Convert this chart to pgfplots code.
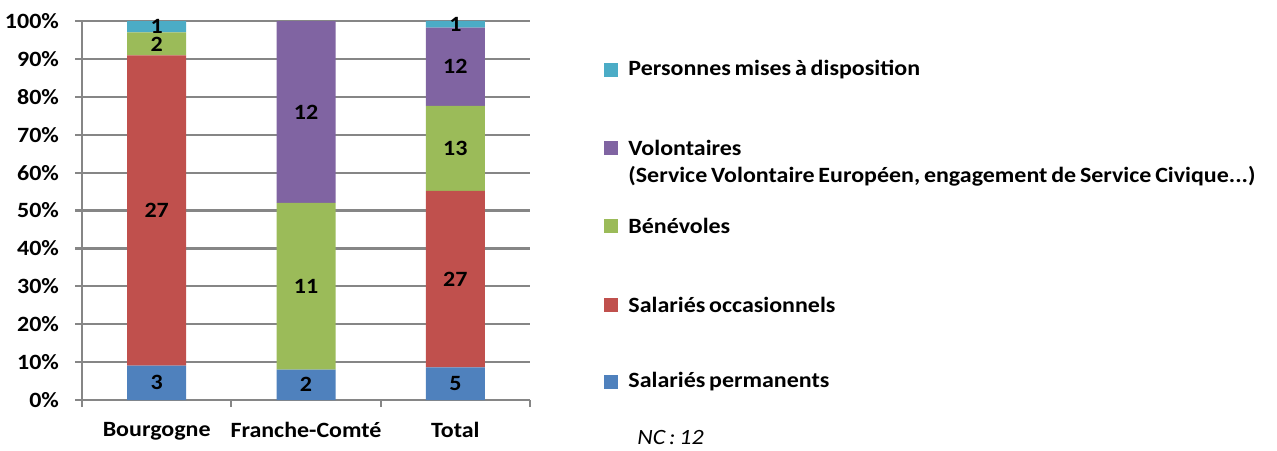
\documentclass[border=0pt]{standalone}
\usepackage{fontspec}
\setmainfont{Carlito}[FakeStretch=1.1, WordSpace=0.7]
\usepackage{pgfplots}
\pgfplotsset{compat=1.18}
\usepackage{pgfplotstable}

\definecolor{permanents}{HTML}{4F81BD}
\definecolor{occasionnels}{HTML}{C0504D}
\definecolor{benevoles}{HTML}{9BBB59}
\definecolor{volontaires}{HTML}{8064A2}
\definecolor{miseadispo}{HTML}{4BACC6}
\definecolor{grille}{HTML}{868686}

% effectifs par categorie, tot = somme de la ligne
\pgfplotstableread{
x perm occ ben vol mad tot
0  3   27  2   0   1   33
1  2   0   11  12  0   25
2  5   27  13  12  1   58
}\effectifs

\pgfplotsset{
  cadre/.style={
    scale only axis, width=224pt, height=189.5pt,
    at={(41pt,25pt)}, anchor=south west,
    xmin=-0.5, xmax=2.5, ymin=0, ymax=100,
  },
  etiquette/.style={
    draw=none, mark=none,
    point meta=explicit symbolic,
    nodes near coords={\ifnum\pgfplotspointmeta=0 \else\pgfplotspointmeta\fi},
    every node near coord/.append style={anchor=center, inner sep=0pt},
  },
}

\begin{document}
\begin{tikzpicture}[font=\fontsize{10.9}{12.5}\selectfont\bfseries]
\path[use as bounding box] (0,0) rectangle (638.5pt,225pt);

\begin{axis}[cadre,
  ybar stacked, bar width=29.5pt,
  axis lines=left, axis line style={-, grille, line width=1.1pt},
  ymajorgrids, grid style={grille, line width=1.1pt},
  ytick={0,10,...,100},
  yticklabel={\pgfmathprintnumber{\tick}\%},
  /pgf/number format/assume math mode=true,
  xtick={0,1,2}, xticklabels={Bourgogne,Franche-Comté,Total},
  minor xtick={-0.5,0.5,1.5,2.5},
  tick align=outside, major tick length=3.5pt, minor tick length=3.5pt,
  tick style={grille, line width=1.1pt},
  every major x tick/.append style={draw=none},
  xticklabel style={yshift=-4pt},
  yticklabel style={xshift=-4.5pt},
]
\addplot[fill=permanents, draw=none] table[x=x, y expr=100*\thisrow{perm}/\thisrow{tot}] {\effectifs};
\addplot[fill=occasionnels, draw=none] table[x=x, y expr=100*\thisrow{occ}/\thisrow{tot}] {\effectifs};
\addplot[fill=benevoles, draw=none] table[x=x, y expr=100*\thisrow{ben}/\thisrow{tot}] {\effectifs};
\addplot[fill=volontaires, draw=none] table[x=x, y expr=100*\thisrow{vol}/\thisrow{tot}] {\effectifs};
\addplot[fill=miseadispo, draw=none] table[x=x, y expr=100*\thisrow{mad}/\thisrow{tot}] {\effectifs};
\end{axis}

% valeurs au milieu de chaque segment
\begin{axis}[cadre, hide axis]
\addplot[etiquette] table[x=x, meta=perm, y expr=100*(\thisrow{perm}/2)/\thisrow{tot}] {\effectifs};
\addplot[etiquette] table[x=x, meta=occ, y expr=100*(\thisrow{perm}+\thisrow{occ}/2)/\thisrow{tot}] {\effectifs};
\addplot[etiquette] table[x=x, meta=ben, y expr=100*(\thisrow{perm}+\thisrow{occ}+\thisrow{ben}/2)/\thisrow{tot}] {\effectifs};
\addplot[etiquette] table[x=x, meta=vol, y expr=100*(\thisrow{perm}+\thisrow{occ}+\thisrow{ben}+\thisrow{vol}/2)/\thisrow{tot}] {\effectifs};
\addplot[etiquette] table[x=x, meta=mad, y expr=100*(\thisrow{tot}-\thisrow{mad}/2)/\thisrow{tot}] {\effectifs};
\end{axis}

% legende
\foreach \c/\y/\t in {miseadispo/190/Personnes mises à disposition,
                      volontaires/151/Volontaires,
                      benevoles/112/Bénévoles,
                      occasionnels/72.5/Salariés occasionnels,
                      permanents/34/Salariés permanents}{
  \fill[\c] (302pt,\y pt-3.4pt) rectangle (309pt,\y pt+3.4pt);
  \node[anchor=west, inner sep=0pt] at (314pt,\y pt) {\t};
}
\node[anchor=west, inner sep=0pt] at (314pt,137pt) {(Service Volontaire Européen, engagement de Service Civique...)};
\node[anchor=west, inner sep=0pt, font=\fontsize{10.9}{12.5}\selectfont\mdseries\itshape] at (318.5pt,6pt) {NC : 12};
\end{tikzpicture}
\end{document}
